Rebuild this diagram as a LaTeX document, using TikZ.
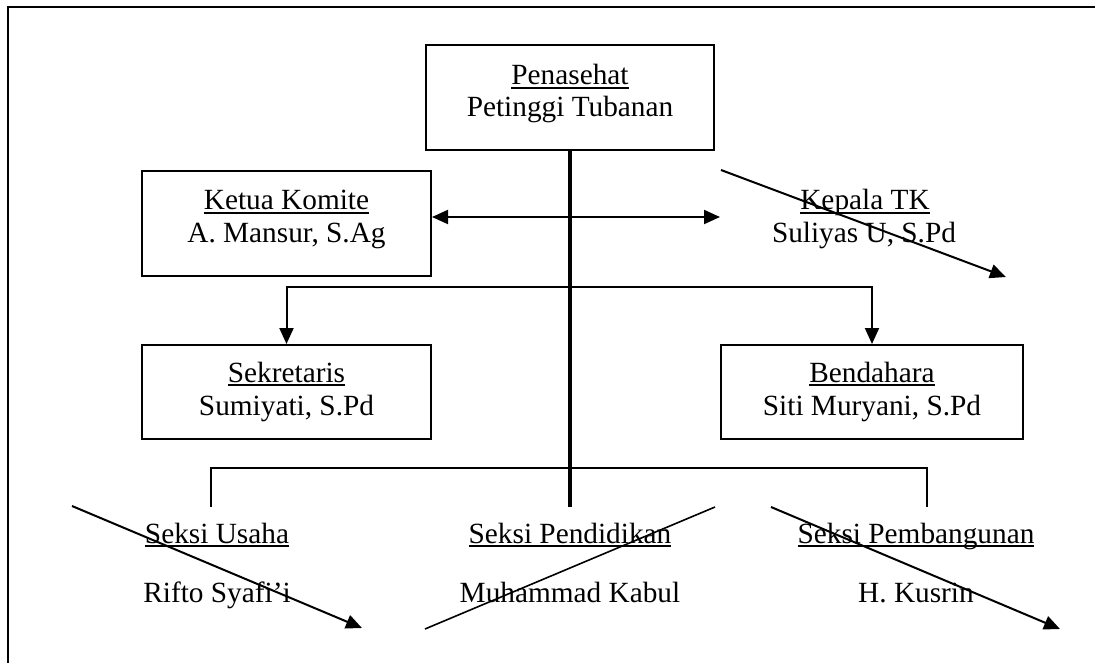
\documentclass[tikz,border=0pt]{standalone}
\usepackage{fontspec}
\setmainfont{Liberation Serif}
\usetikzlibrary{arrows.meta}
\newcommand\ulx[1]{\setbox0\hbox{#1}\rlap{\rule[-4pt]{\wd0}{1.6pt}}\box0}
\tikzset{
  box/.style={draw, line width=2pt, inner sep=0pt},
  lbl/.style={anchor=base, inner sep=0pt, font=\fontsize{29.3}{34}\selectfont},
  conn/.style={line width=2pt},
  trunk/.style={line width=3.6pt},
  tip/.style={-{Triangle[length=16pt,width=14pt]}},
  strike/.style={line width=2pt, -{Triangle[length=16pt,width=14pt]}},
}
\begin{document}
\begin{tikzpicture}[x=1pt,y=-1pt]
\useasboundingbox (0,0) rectangle (1095,663);
% outer frame (cut at right and bottom)
\coordinate (fbl) at (8,663);
\coordinate (ftl) at (8,7.5);
\coordinate (ftr) at (1095,7.5);
\draw[line width=2pt] (fbl) -- (ftl) -- (ftr);

% boxes
\node[box, minimum width=288pt, minimum height=105pt] (pen) at (570,97.5) {};
\node[box, minimum width=289pt, minimum height=105pt] (ketua) at (286.5,223.5) {};
\node[box, minimum width=289pt, minimum height=94pt] (sek) at (286.5,392) {};
\node[box, minimum width=302pt, minimum height=94pt] (ben) at (872,392) {};

% texts
\node[lbl] (penA) at (570,85) {\ulx{Penasehat}};
\node[lbl] (penB) at (570,117) {Petinggi Tubanan};
\node[lbl] (ketA) at (286.5,210) {\ulx{Ketua Komite}};
\node[lbl] (ketB) at (286.5,243) {A. Mansur, S.Ag};
\node[lbl] (kepA) at (865,210) {\ulx{Kepala TK}};
\node[lbl] (kepB) at (864,243) {Suliyas U, S.Pd};
\node[lbl] (sekA) at (286.5,382) {\ulx{Sekretaris}};
\node[lbl] (sekB) at (286.5,415) {Sumiyati, S.Pd};
\node[lbl] (benA) at (872,382) {\ulx{Bendahara}};
\node[lbl] (benB) at (872,415) {Siti Muryani, S.Pd};
\node[lbl] (usA) at (217,543) {\ulx{Seksi Usaha}};
\node[lbl] (usB) at (217,602) {Rifto Syafi’i};
\node[lbl] (pdA) at (570,543) {\ulx{Seksi Pendidikan}};
\node[lbl] (pdB) at (570,602) {Muhammad Kabul};
\node[lbl] (pbA) at (916,543) {\ulx{Seksi Pembangunan}};
\node[lbl] (pbB) at (916,602) {H. Kusrin};

% connector coordinates
\coordinate (tend) at (570,507);
\coordinate (kta) at (720,217);
\coordinate (br) at (570,287);
\coordinate (bb) at (570,468);
\coordinate (usTop) at (211,507);
\coordinate (pbTop) at (927,507);

% trunk
\draw[trunk] (pen.south) -- (tend);
% double arrow Ketua <-> Kepala
\draw[conn, {Triangle[length=16pt,width=14pt]}-{Triangle[length=16pt,width=14pt]}] (ketua.east |- kta) -- (kta);
% branch to Sekretaris and Bendahara
\draw[conn, tip] (br) -| (sek.north);
\draw[conn, tip] (br) -| (ben.north);
% bottom bar
\draw[conn] (bb) -| (usTop);
\draw[conn] (bb) -| (pbTop);

% strike-through lines
\coordinate (s1a) at (721,170);
\coordinate (s1b) at (1006,277);
\coordinate (s2a) at (72,506);
\coordinate (s2b) at (362,628);
\coordinate (s3a) at (425,629);
\coordinate (s3b) at (715,507);
\coordinate (s4a) at (771,507);
\coordinate (s4b) at (1060,629);
\draw[strike] (s1a) -- (s1b);
\draw[strike] (s2a) -- (s2b);
\draw[line width=1.6pt] (s3a) -- (s3b);
\draw[strike] (s4a) -- (s4b);
\end{tikzpicture}
\end{document}
